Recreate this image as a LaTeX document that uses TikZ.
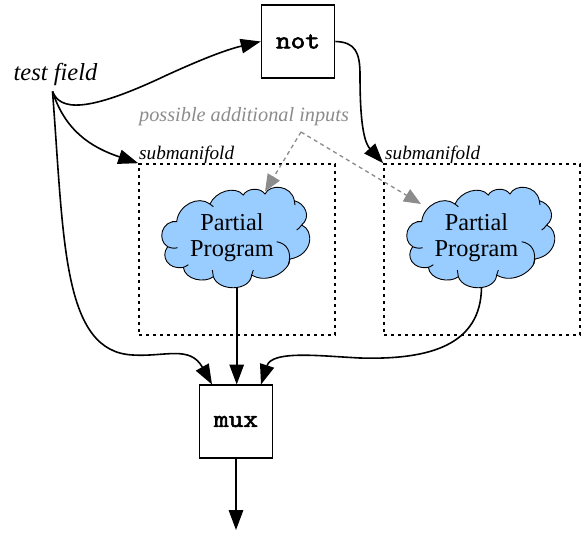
\documentclass[tikz,border=0pt]{standalone}
\usepackage{fontspec}
\setmainfont{Liberation Serif}
\newfontfamily\gatefont{Latin Modern Mono}[FakeBold=2.5,FakeStretch=1.14]
\usetikzlibrary{arrows.meta}
\definecolor{cloudblue}{HTML}{99CCFF}
\definecolor{hintgray}{HTML}{8C8C8C}
\tikzset{
  wire/.style={line width=1.6pt,-{Triangle[length=20pt,width=14.5pt]}},
  hint/.style={line width=1.3pt,hintgray,dash pattern=on 4pt off 3.5pt,-{Triangle[length=17pt,width=14pt]}},
  gate/.style={draw,line width=1.6pt,minimum size=73pt,inner sep=0pt,font=\fontsize{25}{25}\selectfont\gatefont},
  region/.style={draw,line width=1.6pt,dash pattern=on 3.2pt off 3.8pt,minimum width=196pt,minimum height=171pt,inner sep=0pt},
  tag/.style={font=\fontsize{19.2}{19.2}\selectfont\itshape,inner sep=0pt},
  program/.style={align=center,font=\fontsize{24.3}{26}\selectfont,inner sep=0pt,minimum width=100pt,minimum height=100pt},
  partialcloud/.pic={
    \begin{scope}[x=0.3333pt,y=-0.3333pt,shift={(-240,-170)},line width=0.9pt]
    \draw[fill=cloudblue](65,125) .. controls (70,75) and (130,45) .. (165,72)
      .. controls (180,35) and (240,15) .. (265,45)
      .. controls (275,25) and (315,20) .. (330,42)
      .. controls (345,10) and (410,15) .. (418,62)
      .. controls (450,70) and (470,110) .. (440,135)
      .. controls (478,150) and (475,225) .. (405,237)
      .. controls (405,270) and (340,315) .. (290,285)
      .. controls (285,335) and (190,335) .. (175,290)
      .. controls (150,310) and (90,300) .. (85,262)
      .. controls (40,270) and (15,230) .. (38,200)
      .. controls (5,180) and (20,120) .. (65,125);
    \draw(38,200) .. controls (48,205) and (60,205) .. (68,203);
    \draw(65,125) -- (52,125);
    \draw(85,262) .. controls (90,260) and (95,258) .. (100,254);
    \draw(175,290) .. controls (174,283) and (173,277) .. (172,270);
    \draw(290,285) .. controls (292,280) and (294,275) .. (295,270);
    \draw(365,185) .. controls (395,190) and (412,215) .. (400,255);
    \draw(440,135) .. controls (435,142) and (430,147) .. (425,150);
    \draw(418,62) -- (420,75);
    \draw(165,72) -- (175,80);
    \end{scope}
  }
}
\begin{document}
\begin{tikzpicture}[x=1pt,y=-1pt]
\useasboundingbox (0,0) rectangle (585,535);
% boxes
\node[region](regionA)at(237,249.5){};
\node[region](regionB)at(482,249.5){};
\pic at(235,236.7){partialcloud};
\pic at(480,236.7){partialcloud};
\node[program](progA)at(232,238){Partial\\Program};
\node[program](progB)at(476.5,238){Partial\\Program};
\node[gate](notgate)at(298,41.5){not};
\node[gate](muxgate)at(236,421.5){mux};
% labels
\node[font=\fontsize{24.5}{24.5}\selectfont\itshape,inner sep=0pt](testfield)at(55.5,74.5){test field};
\node[tag,anchor=base west]at(139,159.5){submanifold};
\node[tag,anchor=base west]at(385,159.5){submanifold};
\node[hintgray,font=\fontsize{20.3}{20.3}\selectfont\itshape,inner sep=0pt](hintlabel)at(244,117){possible additional inputs};
\coordinate(testout)at(52.5,91.5);
\coordinate(hintin)at(301,132);
\coordinate(cloudAin)at(265,191.5);
\coordinate(cloudBin)at(421,204);
\coordinate(cloudAout)at(236.7,287);
\coordinate(cloudBout)at(481.5,287);
\coordinate(muxA)at(212,384.5);
\coordinate(muxB)at(236.7,384.5);
\coordinate(muxC)at(261,384.5);
\coordinate(muxend)at(236,530);
% connections
\draw[wire](testout) .. controls (60,110) and (85,114) .. (167,75) .. controls (200,60) and (225,50) .. (notgate.west);
\draw[wire](testout) .. controls (65,130) and (90,147) .. (regionA.north west);
\draw[wire](testout) .. controls (64,240) and (62,352) .. (133,355) .. controls (165,357) and (190,345) .. (muxA);
\draw[wire](notgate.east) .. controls (355,42) and (360,52) .. (360,75) .. controls (360,110) and (362,140) .. (regionB.north west);
\draw[wire](cloudAout) -- (muxB);
\draw[wire](cloudBout) .. controls (481,345) and (430,360) .. (360,358) .. controls (320,356) and (272,350) .. (muxC);
\draw[wire](muxgate.south) -- (muxend);
\draw[hint](hintin) -- (cloudAin);
\draw[hint](hintin) -- (cloudBin);
\end{tikzpicture}
\end{document}
